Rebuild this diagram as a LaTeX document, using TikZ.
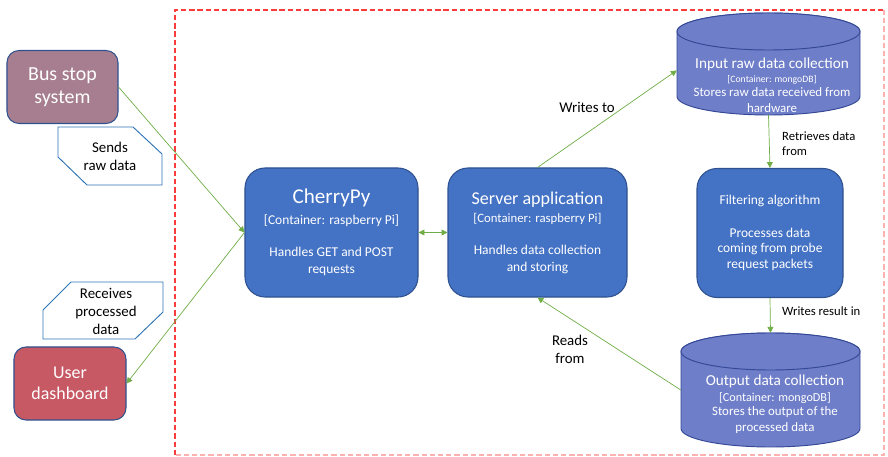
\documentclass[tikz,border=0pt]{standalone}
\usepackage{fontspec}
\setmainfont{Carlito}
\usetikzlibrary{arrows.meta}

\definecolor{boxblue}{RGB}{68,114,196}
\definecolor{boxedge}{RGB}{47,82,143}
\definecolor{cylblue}{RGB}{110,126,200}
\definecolor{cyledge}{RGB}{52,72,150}
\definecolor{flowgreen}{RGB}{112,173,71}
\definecolor{calloutblue}{RGB}{46,117,182}
\definecolor{busmauve}{RGB}{166,126,143}
\definecolor{userred}{RGB}{199,89,101}
\definecolor{borderred}{RGB}{250,60,60}

\begin{document}
\begin{tikzpicture}[x=0.03cm,y=-0.03cm,>={Triangle[length=5pt,width=5pt]}]
\tikzstyle{every node}+=[inner sep=0pt]
\tikzstyle{actor}=[draw=boxedge, line width=0.9pt, rounded corners=0.36cm, text=white, align=center]
\tikzstyle{container}=[draw=boxedge, fill=boxblue, line width=0.9pt, rounded corners=0.6cm, minimum height=3.87cm, text=white, align=center, font=\fontsize{11.5}{14.5}\selectfont]
\tikzstyle{store}=[draw=cyledge, fill=cylblue, line width=0.8pt]
\tikzstyle{storetext}=[text=white, align=center, font=\fontsize{11}{13.6}\selectfont]
\tikzstyle{note}=[draw=calloutblue, fill=white, line width=0.8pt]
\tikzstyle{lbl}=[align=center, font=\fontsize{12.7}{15.4}\selectfont]
\tikzstyle{small}=[align=left, anchor=west, font=\fontsize{10.8}{13}\selectfont]
\tikzstyle{flow}=[draw=flowgreen, line width=0.6pt, ->]
\useasboundingbox (0,0) rectangle (888,457);

% system boundary
\draw [borderred, line width=1pt, dash pattern=on 4.5pt off 2.5pt] (175,455) -- (175,10) -- (884,10);
\draw [borderred!40, line width=1pt, dash pattern=on 4.5pt off 2.5pt] (884,10) -- (884,455) -- (175,455);

% outside actors
\node [actor, fill=busmauve, minimum width=3.33cm, minimum height=2.19cm, font=\fontsize{17}{19.6}\selectfont] (bus) at (62.5,87) {Bus stop\\system};
\node [actor, fill=userred, minimum width=3.36cm, minimum height=2.19cm, font=\fontsize{15.3}{17.9}\selectfont] (user) at (70,383.5) {User\\dashboard};

% callouts
\draw [note] (58,127) -- (133,127) -- (162,154) -- (162,185) -- (87,185) -- (58,157) -- cycle;
\node [lbl] (sends) at (110,156) {Sends\\raw data};
\draw [note] (71,282) -- (163,282) -- (163,312) -- (135,339) -- (43,339) -- (43,310) -- cycle;
\node [lbl] (receives) at (106,311) {Receives\\processed\\data};

% containers
\node [container, minimum width=5.19cm] (cherry) at (331.5,232.5) {{\fontsize{18}{18}\selectfont CherryPy}\\[3.4pt][Container: raspberry Pi]\\[12.7pt]Handles GET and POST\\requests};
\node [container, minimum width=5.37cm] (server) at (537.5,232.5) {{\fontsize{15.4}{15.4}\selectfont Server application}\\[1pt]{\fontsize{10.9}{13}\selectfont[Container: raspberry Pi]}\\[12.7pt]Handles data collection\\and storing};
\node [container, minimum width=4.38cm, font=\fontsize{11.5}{13.6}\selectfont] (filter) at (770,233) {Filtering algorithm\\[14.4pt]Processes data\\coming from probe\\request packets};

% databases
\filldraw [store] (677,31.5) -- (677,96.5) arc [start angle=180, end angle=0, x radius=91.5, y radius=18.5] -- (860,31.5) arc [start angle=0, end angle=-180, x radius=91.5, y radius=18.5] -- cycle;
\filldraw [store] (768.5,31.5) ellipse [x radius=91.5, y radius=18.5];
\node [minimum width=5.49cm, minimum height=3.06cm] (inraw) at (768.5,64) {};
\node [storetext] (inrawtext) at (772,85) {{\fontsize{13}{13}\selectfont Input raw data collection}\\[-1pt]{\fontsize{8.3}{9}\selectfont[Container: mongoDB]}\\[-2pt]Stores raw data received from\\hardware};
\filldraw [store] (681,351.5) -- (681,428.5) arc [start angle=180, end angle=0, x radius=89.5, y radius=18.5] -- (860,351.5) arc [start angle=0, end angle=-180, x radius=89.5, y radius=18.5] -- cycle;
\filldraw [store] (770.5,351.5) ellipse [x radius=89.5, y radius=18.5];
\node [minimum width=5.37cm, minimum height=3.42cm] (outdata) at (770.5,390) {};
\node [storetext] (outtext) at (775,404) {{\fontsize{13}{13}\selectfont Output data collection}\\{\fontsize{10.4}{11}\selectfont[Container: mongoDB]}\\[-1.5pt]Stores the output of the\\processed data};

% connectors
\draw [flow] (bus.east) -- (cherry.west);
\draw [flow] (cherry.west) -- (user.east);
\draw [flow, <->] (cherry.east) -- (server.west);
\draw [flow] (server.north) -- (inraw.184);
\draw [flow] (inraw.south) -- (filter.north);
\draw [flow] (filter.south) -- (outdata.north);
\draw [flow] (outdata.west) -- (server.south);

% connector labels
\node [lbl] (writesto) at (587,107) {Writes to};
\node [lbl] (readsfrom) at (570,349) {Reads\\from};
\node [small] (retrieves) at (782,143.5) {Retrieves data\\from};
\node [small] (writesin) at (782,311) {Writes result in};
\end{tikzpicture}
\end{document}
